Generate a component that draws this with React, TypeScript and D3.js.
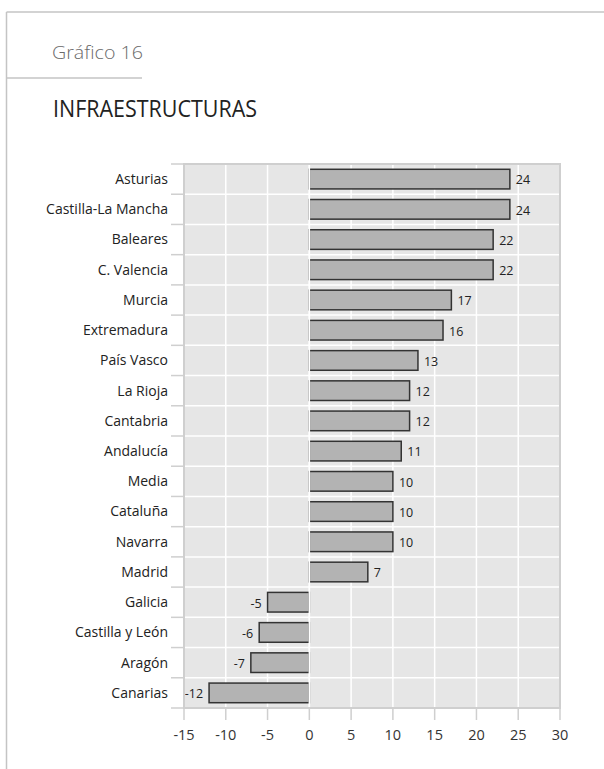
import React from "react";
import * as d3 from "d3";

const categories = [
  "Asturias", "Castilla-La Mancha", "Baleares", "C. Valencia", "Murcia",
  "Extremadura", "País Vasco", "La Rioja", "Cantabria", "Andalucía",
  "Media", "Cataluña", "Navarra", "Madrid", "Galicia", "Castilla y León",
  "Aragón", "Canarias",
];
const values = [24, 24, 22, 22, 17, 16, 13, 12, 12, 11, 10, 10, 10, 7, -5, -6, -7, -12];
const xTicks = [-15, -10, -5, 0, 5, 10, 15, 20, 25, 30];
const supTitle = "Gráfico 16";
const title = "INFRAESTRUCTURAS";

const W = 604;
const H = 769;
const plot = { left: 184, right: 560, top: 164, bottom: 708 };
const FONT = "'Open Sans', 'Noto Sans', sans-serif";

export default function App() {
  const x = d3.scaleLinear().domain([-15, 30]).range([plot.left, plot.right]);
  const y = d3
    .scaleBand<string>()
    .domain(categories)
    .range([plot.top, plot.bottom])
    .paddingInner(0.35)
    .paddingOuter(0.175);
  const step = y.step();
  const boundaries = d3.range(categories.length + 1).map((i) => plot.top + i * step);
  const gridColor = "#ffffff";
  const frame = "#c4c4c4";

  return (
    <svg
      width={W}
      height={H}
      style={{ position: "absolute", left: 0, top: 0, background: "#fff" }}
      fontFamily={FONT}
    >
      {/* outer frame */}
      <line x1={6.5} x2={W} y1={12} y2={12} stroke={frame} strokeWidth={1.5} />
      <line x1={6.5} x2={6.5} y1={12} y2={H} stroke={frame} strokeWidth={1.5} />
      <line x1={6.5} x2={142} y1={78} y2={78} stroke={frame} strokeWidth={1.5} />
      <text
        x={52}
        y={59}
        fontSize={18.5}
        fill="#6a6a6a"
        fontWeight={300}
        textLength={91}
        lengthAdjust="spacingAndGlyphs"
      >
        {supTitle}
      </text>
      <text
        x={53}
        y={117}
        fontSize={23}
        fill="#222"
        textLength={204}
        lengthAdjust="spacingAndGlyphs"
      >
        {title}
      </text>

      {/* plot background */}
      <rect
        x={plot.left}
        y={plot.top}
        width={plot.right - plot.left}
        height={plot.bottom - plot.top}
        fill="#e6e6e6"
      />
      {/* vertical grid */}
      {xTicks.map((t) => (
        <line
          key={"vg" + t}
          x1={x(t)}
          x2={x(t)}
          y1={plot.top}
          y2={plot.bottom}
          stroke={gridColor}
          strokeWidth={1.5}
        />
      ))}
      {/* horizontal grid */}
      {boundaries.map((b, i) => (
        <line
          key={"hg" + i}
          x1={plot.left}
          x2={plot.right}
          y1={b}
          y2={b}
          stroke={gridColor}
          strokeWidth={1.5}
        />
      ))}

      {/* bars */}
      {categories.map((c, i) => {
        const v = values[i];
        const x0 = x(Math.min(0, v));
        const x1 = x(Math.max(0, v));
        return (
          <rect
            key={"b" + c}
            x={x0}
            y={y(c)!}
            width={x1 - x0}
            height={y.bandwidth()}
            fill="#b3b3b3"
            stroke="#333"
            strokeWidth={1.5}
          />
        );
      })}
      {/* zero line on top */}
      <line
        x1={x(0)}
        x2={x(0)}
        y1={plot.top}
        y2={plot.bottom}
        stroke="#fff"
        strokeWidth={1.5}
      />

      {/* value labels */}
      {categories.map((c, i) => {
        const v = values[i];
        const pos = v >= 0;
        return (
          <text
            key={"l" + c}
            x={x(v) + (pos ? 6 : -6)}
            y={y(c)! + y.bandwidth() / 2 + 1}
            dy="0.35em"
            textAnchor={pos ? "start" : "end"}
            fontSize={12.5}
            fill="#222"
          >
            {v}
          </text>
        );
      })}

      {/* plot border */}
      <rect
        x={plot.left}
        y={plot.top}
        width={plot.right - plot.left}
        height={plot.bottom - plot.top}
        fill="none"
        stroke="#cfcfcf"
        strokeWidth={2}
      />

      {/* y ticks and labels */}
      {boundaries.map((b, i) => (
        <line
          key={"yt" + i}
          x1={171}
          x2={plot.left}
          y1={b}
          y2={b}
          stroke="#cfcfcf"
          strokeWidth={1.5}
        />
      ))}
      {categories.map((c) => (
        <text
          key={"yl" + c}
          x={168}
          y={y(c)! + y.bandwidth() / 2}
          dy="0.35em"
          textAnchor="end"
          fontSize={14}
          fill="#222"
        >
          {c}
        </text>
      ))}

      {/* x ticks and labels */}
      {xTicks.map((t) => (
        <g key={"xt" + t}>
          <line
            x1={x(t)}
            x2={x(t)}
            y1={plot.bottom}
            y2={plot.bottom + 12}
            stroke="#cfcfcf"
            strokeWidth={1.5}
          />
          <text
            x={x(t)}
            y={735}
            dy="0.35em"
            textAnchor="middle"
            fontSize={14.5}
            fill="#333"
          >
            {t}
          </text>
        </g>
      ))}
    </svg>
  );
}
